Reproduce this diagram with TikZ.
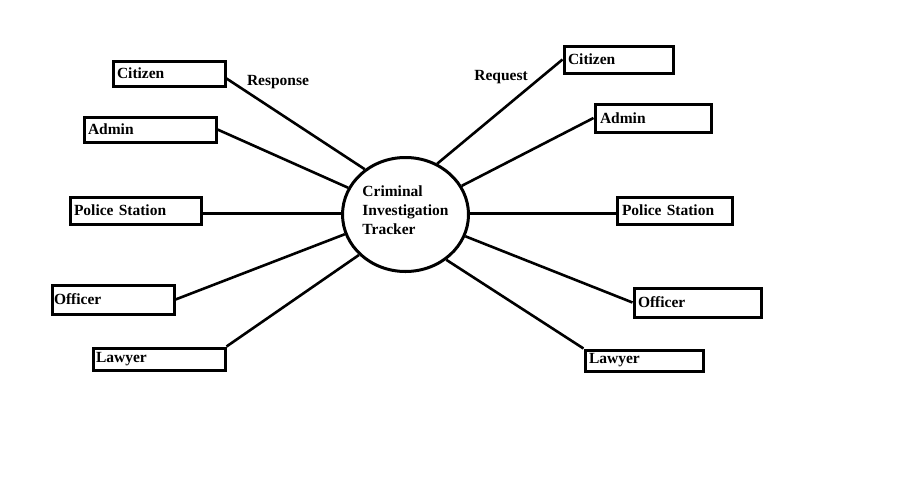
\documentclass[tikz,border=0pt]{standalone}
\usepackage{fontspec}
\setmainfont{Liberation Serif}
\usetikzlibrary{shapes.geometric}
\begin{document}
\begin{tikzpicture}[x=1pt,y=-1pt,
  every node/.style={font=\bfseries\fontsize{15.5}{19}\selectfont},
  every label/.style={font=\bfseries\fontsize{15.5}{19}\selectfont},
  box/.style={draw, line width=3pt, rectangle, anchor=north west, align=left, inner xsep=4pt, inner ysep=0pt, xshift=1.5pt, yshift=-1.5pt},
  link/.style={line width=2.6pt},
  hub/.style={draw, ellipse, line width=3pt, minimum width=126pt, minimum height=114pt, inner sep=0pt}]
\useasboundingbox (0,0) rectangle (907,501);
\fill[white] (0,0) rectangle (907,501);
% hub
\node[hub, label={[align=left, yshift=4pt]center:Criminal\\Investigation\\Tracker}] (c) at (405.5,214.5) {};
% left boxes
\node[box, minimum width=112pt, minimum height=25pt, text width=104pt] (lc) at (110,58) {Citizen};
\node[box, minimum width=132pt, minimum height=25pt, text width=124pt] (la) at (81,114) {Admin};
\node[box, minimum width=131pt, minimum height=27pt, text width=123pt] (lp) at (67,194) {Police Station};
\node[box, minimum width=122pt, minimum height=29pt, text width=118pt, inner xsep=2pt] (lo) at (49,282) {Officer};
\node[box, minimum width=132pt, minimum height=22pt, text width=126pt, inner xsep=3pt] (lw) at (90,345) {Lawyer};
% right boxes
\node[box, minimum width=109pt, minimum height=27pt, text width=101pt] (rc) at (561,43) {Citizen};
\node[box, minimum width=116pt, minimum height=28pt, text width=106pt, inner xsep=5pt] (ra) at (592,101) {Admin};
\node[box, minimum width=115pt, minimum height=27pt, text width=105pt, inner xsep=5pt] (rp) at (614,194) {Police Station};
\node[box, minimum width=127pt, minimum height=29pt, text width=119pt] (ro) at (631,285) {Officer};
\node[box, minimum width=118pt, minimum height=21pt, text width=110pt] (rw) at (582,347) {Lawyer};
% labels
\node (resp) at (278,82) {Response};
\node (req) at (501,77) {Request};
% connectors
\draw[link] ([yshift=-5pt]lc.east) -- (c.132);
\draw[link] (la.east) -- (c.155);
\draw[link] ([yshift=-3pt]lp.east) -- ([yshift=-3pt]lp.east -| c.west);
\draw[link] (lo.east) -- (c.198);
\draw[link] (lw.north east) -- (c.221);
\draw[link] (rc.west) -- (c.58);
\draw[link] (ra.west) -- (c.27);
\draw[link] ([yshift=-3pt]rp.west) -- ([yshift=-3pt]rp.west -| c.east);
\draw[link] (ro.west) -- (c.340);
\draw[link] (rw.north west) -- (c.312);
\end{tikzpicture}
\end{document}
